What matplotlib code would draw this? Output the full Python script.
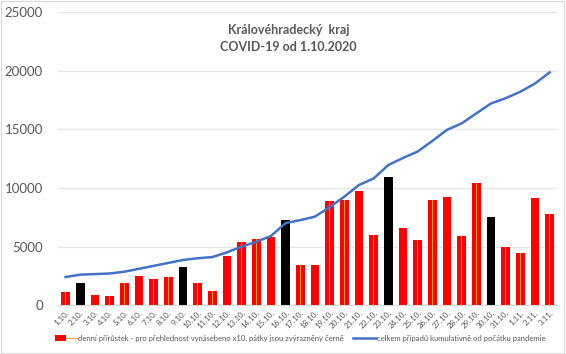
import matplotlib
matplotlib.use("Agg")
import matplotlib.pyplot as plt
from matplotlib.patches import Patch, Rectangle
from matplotlib.lines import Line2D
from matplotlib.legend_handler import HandlerTuple

plt.rcParams['font.family'] = ['Lato', 'DejaVu Sans']

dates = ["1.10.", "2.10.", "3.10.", "4.10.", "5.10.", "6.10.", "7.10.", "8.10.", "9.10.",
         "10.10.", "11.10.", "12.10.", "13.10.", "14.10.", "15.10.", "16.10.", "17.10.",
         "18.10.", "19.10.", "20.10.", "21.10.", "22.10.", "23.10.", "24.10.", "25.10.",
         "26.10.", "27.10.", "28.10.", "29.10.", "30.10.", "31.10.", "1.11.", "2.11.", "3.11."]
daily_x10 = [1100, 1900, 850, 800, 1900, 2500, 2200, 2400, 3250, 1850, 1200, 4150, 5400,
             5600, 5850, 7250, 3400, 3450, 8850, 8950, 9700, 6000, 10900, 6550, 5550, 9000,
             9200, 5900, 10400, 7550, 4950, 4450, 9100, 7800]
fridays = ["2.10.", "9.10.", "16.10.", "23.10.", "30.10."]
cumulative = [2400, 2600, 2650, 2700, 2850, 3100, 3350, 3600, 3850, 4000, 4100, 4500, 5000,
              5400, 5900, 7000, 7250, 7550, 8350, 9250, 10250, 10800, 11950, 12550, 13100,
              14000, 14950, 15500, 16350, 17200, 17650, 18200, 18900, 19850]

label_bar = "denní přírůstek - pro přehlednost vynásebeno x10, pátky jsou zvýrazněny černě"
label_line = "celkem případů kumulativně od počátku pandemie"

fig = plt.figure(figsize=(5.66, 3.54), dpi=100)
fig.patches.append(Rectangle((0.002, 0.003), 0.995, 0.993, transform=fig.transFigure,
                             fill=False, edgecolor="#d9d9d9", linewidth=0.8))
ax = fig.add_axes([0.103, 0.138, 0.881, 0.828])

x = list(range(len(dates)))
colors = ["black" if d in fridays else "#ff0000" for d in dates]
ax.bar(x, daily_x10, width=0.6, color=colors, zorder=2)
red_x = [i for i, d in enumerate(dates) if d not in fridays]
red_v = [daily_x10[i] for i in red_x]
ax.bar(red_x, red_v, width=0.06, color="#f5a030", zorder=3)

ax.plot(x, cumulative, color="#4472c4", linewidth=1.8, zorder=4)

ax.set_xlim(-0.5, len(dates) - 0.5)
ax.set_ylim(0, 25000)
ax.set_yticks(range(0, 25001, 5000))
ax.yaxis.grid(True, color="#e6e6e6", linewidth=1)
ax.set_axisbelow(True)
for s in ["top", "right", "left"]:
    ax.spines[s].set_visible(False)
ax.spines["bottom"].set_color("#d9d9d9")
ax.tick_params(axis="y", length=0, labelsize=9.5, labelcolor="#595959", pad=11)
ax.set_xticks(x)
ax.set_xticklabels(dates, rotation=45, ha="right", rotation_mode="anchor", fontsize=5.8,
                   color="#595959")
ax.tick_params(axis="x", length=0, pad=3)

fig.text(0.51, 0.915, "Královéhradecký  kraj", ha="center", va="center", fontsize=9,
         fontweight="bold", color="#595959")
fig.text(0.51, 0.868, "COVID-19 od 1.10.2020", ha="center", va="center", fontsize=9,
         fontweight="bold", color="#595959")

h_bar = (Patch(facecolor="#ff0000", edgecolor="none"), Line2D([], [], color="#f5a030", linewidth=0.8))
h_line = Line2D([], [], color="#4472c4", linewidth=1.8)
fig.legend([h_bar, h_line], [label_bar, label_line], loc="center", bbox_to_anchor=(0.53, 0.045),
           ncol=2, frameon=False, fontsize=5.5, handlelength=3.0, handleheight=1.0,
           handletextpad=0.1, columnspacing=1.2, labelcolor="#595959",
           handler_map={tuple: HandlerTuple(ndivide=None, pad=0)})

fig.savefig("out.png", dpi=100)
